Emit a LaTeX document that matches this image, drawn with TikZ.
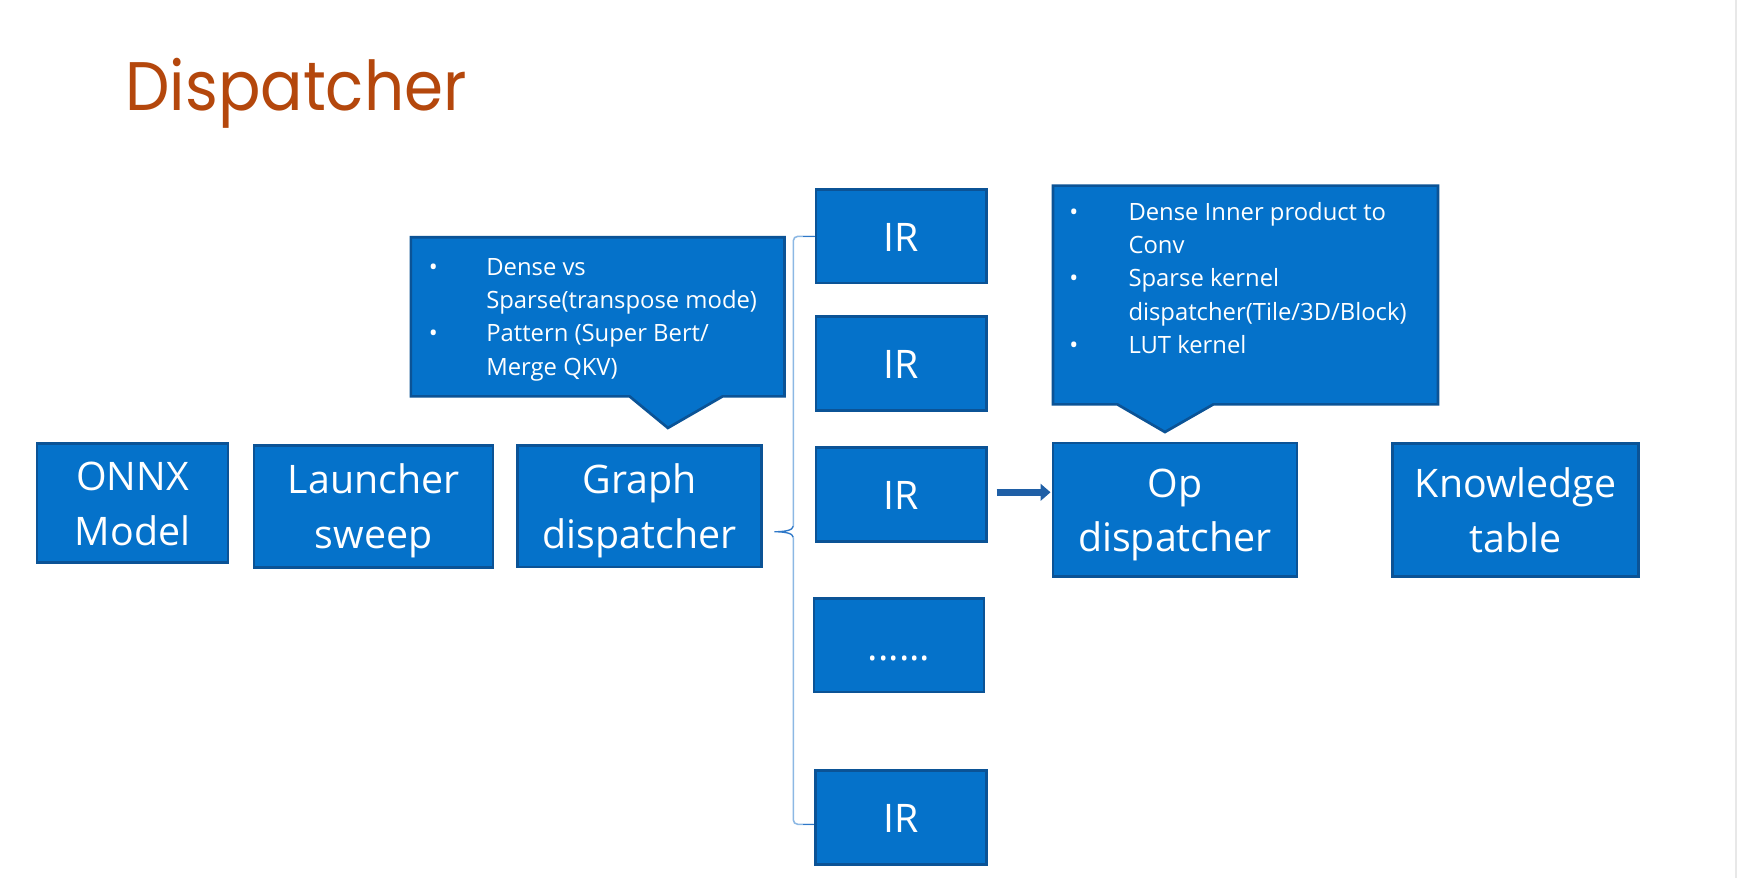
\documentclass[tikz,border=0pt]{standalone}
\usepackage{fontspec}
\setmainfont{Open Sans}
\newfontfamily\titlefont{Poppins}
\usetikzlibrary{arrows.meta}
\definecolor{boxfill}{HTML}{0572CA}
\definecolor{boxline}{HTML}{0B5396}
\definecolor{titlecol}{HTML}{B4470C}
\definecolor{bracelight}{HTML}{8CB8E4}
\definecolor{bracedark}{HTML}{2F78C8}
\definecolor{arrowcol}{HTML}{1F5FA6}
\definecolor{edgegray}{HTML}{E8E8E8}
\newcommand{\bxtop}{\rule{0pt}{37pt}}
\newcommand{\bxbot}{\rule[-10.4pt]{0pt}{10.4pt}}
\tikzset{
  box/.style={draw=boxline, fill=boxfill, line width=2.4pt, text=white, align=center,
    inner sep=0pt, font=\fontsize{35.5}{49.5}\selectfont},
  callout/.style={draw=boxline, fill=boxfill, line width=2.4pt, line join=miter},
  calltext/.style={text=white, inner sep=0pt, anchor=base west,
    font=\fontsize{21.5}{30.2}\selectfont},
  flow/.style={draw=arrowcol, line width=6pt, -{Triangle[length=9pt,width=15pt]}},
  bracepath/.style={draw=bracelight, line width=1.4pt},
  bracetip/.style={draw=bracedark, line width=1.2pt},
}
\begin{document}
\begin{tikzpicture}[x=1pt,y=-1pt]
\useasboundingbox (0,0) rectangle (1568,792.6);
\fill[white] (0,0) rectangle (1568,792.6);
\fill[edgegray] (1566.2,0) rectangle (1568,792.6);

% title
\node[anchor=base west, inner sep=0pt, text=titlecol, xscale=0.915,
  font=\titlefont\fontsize{62}{70}\selectfont] (title) at (113,99.9) {Dispatcher};

% callouts
\path[callout] (370.9,214.2) -- (708.1,214.2) -- (708.1,357.8) -- (652.3,357.8)
  -- (602.9,386.3) -- (568.3,357.8) -- (370.9,357.8) -- cycle;
\node[calltext] (c1) at (386.9,248.3) {\begin{tabular}[t]{@{}p{51.9pt}@{}l@{}}
  •& Dense vs\\
   & Sparse(transpose mode)\\
  •& Pattern (Super Bert/\\
   & Merge QKV)
\end{tabular}};

\path[callout] (950.5,167.6) -- (1298.1,167.6) -- (1298.1,365) -- (1095.3,365)
  -- (1051.6,390) -- (1008.6,365) -- (950.5,365) -- cycle;
\node[calltext] (c2) at (965.2,198.6) {\begin{tabular}[t]{@{}p{53.3pt}@{}l@{}}
  •& Dense Inner product to\\
   & Conv\\
  •& Sparse kernel\\
   & dispatcher(Tile/3D/Block)\\
  •& LUT kernel
\end{tabular}};

% main boxes
\node[box, minimum width=172.4pt, minimum height=107.4pt] (onnx) at (119.6,454.2) {\bxtop ONNX\\Model\bxbot};
\node[box, minimum width=215.7pt, minimum height=110.4pt] (launch) at (337.15,457.2) {\bxtop Launcher\\sweep\bxbot};
\node[box, minimum width=220.5pt, minimum height=109.8pt] (graph) at (577.25,456.9) {\bxtop Graph\\dispatcher\bxbot};

\node[box, minimum width=154.3pt, minimum height=84.3pt] (ir1) at (813.65,213.35) {\bxtop IR\bxbot};
\node[box, minimum width=154.3pt, minimum height=84.9pt] (ir2) at (813.65,327.95) {\bxtop IR\bxbot};
\node[box, minimum width=154.3pt, minimum height=84.9pt] (ir3) at (813.65,446.25) {\bxtop IR\bxbot};
\node[box, minimum width=153.4pt, minimum height=84.6pt] (dots) at (811.6,582.5) {\bxtop ......\bxbot};
\node[box, minimum width=154.3pt, minimum height=84.8pt] (ir5) at (813.5,738.1) {\bxtop IR\bxbot};

\node[box, minimum width=220.3pt, minimum height=120.5pt] (op) at (1060.65,460.15) {\bxtop Op\\dispatcher\bxbot};
\node[box, minimum width=222pt, minimum height=119.9pt] (know) at (1368.2,460.45) {\bxtop Knowledge\\table\bxbot};

% brace
\coordinate (btop) at (716.1,213.35);
\coordinate (bup) at (716.1,475);
\coordinate (btip) at (699,480);
\coordinate (blow) at (716.1,485);
\coordinate (bbot) at (716.1,744.1);
\coordinate (bend) at (734.5,744.1);
\draw[bracepath, rounded corners=4pt] (ir1.west) -- (btop) -- (bup);
\draw[bracepath, rounded corners=4pt] (blow) -- (bbot) -- (bend);
\draw[bracetip] (bup) .. controls (716.1,479) and (707,480) .. (btip)
  .. controls (707,480) and (716.1,481) .. (blow);
\draw[bracetip] (ir1.west) -- ++(-10,0);
\draw[bracetip] (bend) -- ++(-10,0);

% arrow
\coordinate (a0) at ([xshift=7.7pt,yshift=1.85pt]ir3.east);
\draw[flow, shorten >=1pt] (a0) -- (a0 -| op.west);
\end{tikzpicture}
\end{document}
